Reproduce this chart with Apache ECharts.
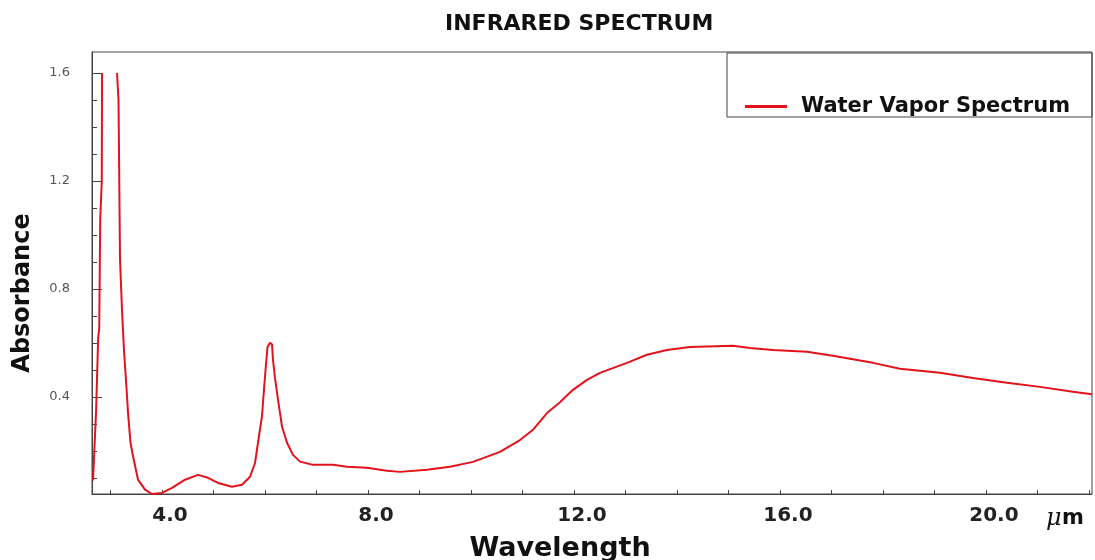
<!DOCTYPE html>
<html>
<head>
<meta charset="utf-8">
<script src="https://cdn.jsdelivr.net/npm/echarts@6/dist/echarts.min.js"></script>
<style>
html,body{margin:0;padding:0;background:#fff;}
#chart{width:1095px;height:560px;}
</style>
</head>
<body>
<div id="chart"></div>
<script>
// Wavelength (µm) and absorbance; null = off-scale gap
var wavelength = [2.66, 2.72, 2.76, 2.78, 2.80, 2.83, 2.835, 2.98, 3.126, 3.155, 3.184, 3.223, 3.262, 3.311, 3.340, 3.388, 3.437, 3.534, 3.670, 3.806, 4.0, 4.194, 4.447, 4.699, 4.893, 5.087, 5.359, 5.553, 5.709, 5.806, 5.864, 5.942, 5.981, 6.019, 6.049, 6.097, 6.136, 6.155, 6.194, 6.252, 6.330, 6.427, 6.544, 6.680, 6.932, 7.320, 7.592, 7.981, 8.369, 8.621, 9.146, 9.592, 10.039, 10.563, 10.951, 11.204, 11.476, 11.728, 11.981, 12.252, 12.505, 13.029, 13.417, 13.806, 14.252, 15.087, 15.417, 15.864, 16.524, 17.029, 17.806, 18.330, 19.107, 19.748, 20.408, 21.049, 21.689, 22.06];
var absorbance = [0.09, 0.35, 0.62, 0.65, 1.06, 1.2, 1.6, null, 1.6, 1.5, 0.91, 0.72, 0.57, 0.43, 0.34, 0.23, 0.18, 0.093, 0.056, 0.04, 0.044, 0.063, 0.093, 0.111, 0.10, 0.081, 0.067, 0.074, 0.104, 0.155, 0.23, 0.33, 0.43, 0.52, 0.585, 0.60, 0.595, 0.537, 0.47, 0.39, 0.29, 0.23, 0.185, 0.16, 0.148, 0.148, 0.141, 0.137, 0.126, 0.122, 0.13, 0.141, 0.159, 0.196, 0.24, 0.278, 0.34, 0.38, 0.426, 0.463, 0.489, 0.526, 0.556, 0.574, 0.585, 0.589, 0.581, 0.574, 0.567, 0.552, 0.526, 0.504, 0.489, 0.47, 0.452, 0.437, 0.419, 0.41];
var xLabels = [4, 8, 12, 16, 20];
var xTicks = [3, 4, 5, 6, 7, 8, 9, 10, 11, 12, 13, 14, 15, 16, 17, 18, 19, 20, 21, 22];
var yLabels = [0.4, 0.8, 1.2, 1.6];
var yTicks = [0.1, 0.2, 0.3, 0.4, 0.5, 0.6, 0.7, 0.8, 0.9, 1.0, 1.1, 1.2, 1.3, 1.4, 1.5, 1.6];
var seriesName = 'Water Vapor Spectrum';

var seriesData = wavelength.map(function (w, i) { return [w, absorbance[i]]; });
var FONT = '"DejaVu Sans", Verdana, sans-serif';

var chart = echarts.init(document.getElementById('chart'));
chart.setOption({
  backgroundColor: '#ffffff',
  animation: false,
  title: {
    text: 'INFRARED SPECTRUM',
    left: 440, top: 8,
    textStyle: { fontFamily: FONT, fontWeight: 'bold', fontSize: 22, color: '#111' }
  },
  legend: {
    data: [{ name: seriesName, icon: 'rect' }],
    left: 740, top: 91,
    itemWidth: 42, itemHeight: 3, itemGap: 0,
    textStyle: { fontFamily: FONT, fontWeight: 'bold', fontSize: 21, color: '#111', padding: [0, 0, 0, 9] }
  },
  grid: {
    left: 92, right: 3, top: 52, bottom: 66,
    show: true, borderColor: '#444', borderWidth: 1, backgroundColor: '#fff'
  },
  xAxis: {
    type: 'value', min: 2.64, max: 22.06,
    axisLine: { show: true, lineStyle: { color: '#444', width: 1 } },
    splitLine: { show: false },
    axisTick: { show: true, inside: true, length: 4, customValues: xTicks, lineStyle: { color: '#444' } },
    axisLabel: {
      customValues: xLabels, margin: 12,
      formatter: function (v) { return v.toFixed(1); },
      fontFamily: FONT, fontWeight: 'bold', fontSize: 20, color: '#222', padding: [0, 0, 0, 16]
    }
  },
  yAxis: [{
    type: 'value', min: 0.04, max: 1.678,
    axisLine: { show: true, lineStyle: { color: '#444', width: 1 } },
    splitLine: { show: false },
    axisTick: { show: true, inside: true, length: 5, customValues: yTicks, lineStyle: { color: '#444' } },
    axisLabel: {
      customValues: yLabels, margin: 22,
      formatter: function (v) { return v.toFixed(1); },
      fontFamily: FONT, fontSize: 13, color: '#555'
    }
  }, {
    type: 'value', min: 0.04, max: 1.678, position: 'left',
    axisLine: { show: false },
    splitLine: { show: false },
    axisLabel: { show: false },
    axisTick: { show: true, inside: true, length: 10, customValues: yLabels, lineStyle: { color: '#444' } }
  }],
  series: [{
    name: seriesName,
    type: 'line',
    data: seriesData,
    showSymbol: false,
    connectNulls: false,
    smooth: false,
    clip: true,
    itemStyle: { color: '#e4121b' },
    lineStyle: { color: '#e4121b', width: 2 }
  }],
  graphic: [
    { type: 'rect', shape: { x: 727, y: 53, width: 365, height: 64 }, style: { fill: 'none', stroke: '#444', lineWidth: 1 }, silent: true },
    { type: 'text', x: 23, y: 293, rotation: Math.PI / 2,
      style: { text: 'Absorbance', fill: '#111', font: 'bold 24px ' + FONT, textAlign: 'center', textVerticalAlign: 'middle' } },
    { type: 'text', x: 560, y: 549,
      style: { text: 'Wavelength', fill: '#111', font: 'bold 27px ' + FONT, textAlign: 'center', textVerticalAlign: 'middle' } },
    { type: 'text', x: 1046, y: 519,
      style: { text: 'μ', fill: '#111', font: 'italic 24px "DejaVu Serif", serif', textAlign: 'left', textVerticalAlign: 'middle' } },
    { type: 'text', x: 1062, y: 519,
      style: { text: 'm', fill: '#111', font: 'bold 21px ' + FONT, textAlign: 'left', textVerticalAlign: 'middle' } }
  ]
});
</script>
</body>
</html>
